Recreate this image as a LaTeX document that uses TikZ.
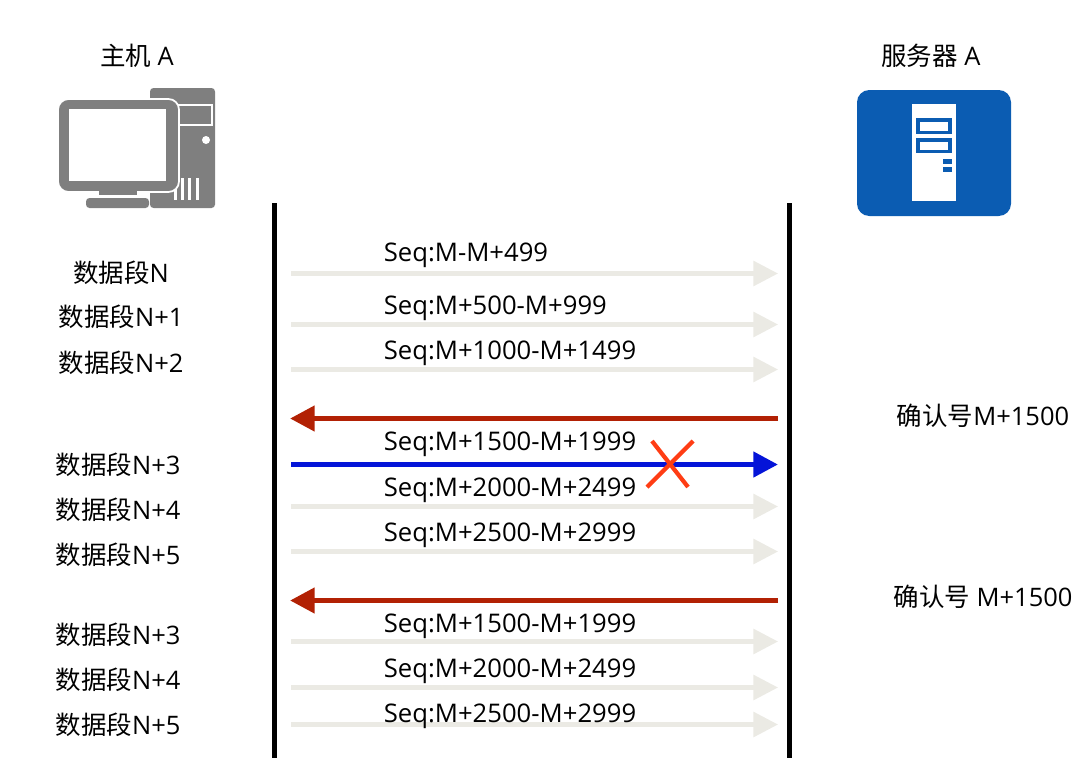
\documentclass[tikz,border=0pt]{standalone}
\usepackage{fontspec}
\setmainfont{Open Sans}
\newfontfamily\cjk{Noto Sans CJK SC}
\usetikzlibrary{arrows.meta, positioning}

\begin{document}
\begin{tikzpicture}[x=0.02cm, y=-0.02cm,
    seq/.style={anchor=west, inner sep=0pt, font=\fontsize{14.6pt}{17pt}\selectfont},
    side/.style={inner sep=0pt, font=\fontsize{14.5pt}{17pt}\selectfont},
    sent/.style={-{Triangle[length=14pt, width=14pt]}, line width=2.3pt, color=sentgray},
    ack/.style={-{Triangle[length=14pt, width=14pt]}, line width=3.1pt, color=ackred},
    lost/.style={-{Triangle[length=14pt, width=14pt]}, line width=3.1pt, color=lostblue},
    lifeline/.style={line width=2.4pt, black},
    cross/.style={line width=2.4pt, color=crossred}
]
\definecolor{sentgray}{HTML}{EBEAE4}
\definecolor{ackred}{HTML}{B22104}
\definecolor{lostblue}{HTML}{0414D8}
\definecolor{crossred}{HTML}{FF3D14}
\definecolor{hostgray}{HTML}{7F7F7F}
\definecolor{serverblue}{HTML}{0B5CB2}

\useasboundingbox (0,0) rectangle (1088,768);

% Host icon
\fill[hostgray, rounded corners=2pt] (150,88) rectangle (215,208);
\draw[white, line width=0.7pt] (170,105) -- (212,105) -- (212,125) -- (170,125);
\fill[white] (206,140) circle (4);
\fill[white] (174,178) rectangle (176.5,200);
\fill[white] (181,178) rectangle (183.5,200);
\fill[white] (188,178) rectangle (190.5,200);
\fill[white] (196,178) rectangle (198.5,200);
\fill[hostgray, draw=white, line width=1pt, rounded corners=6pt] (58,99) rectangle (179,192);
\fill[white] (69,109) rectangle (166,181);
\fill[hostgray] (99,190) rectangle (137,195);
\fill[hostgray, rounded corners=2pt] (86,198) rectangle (149,208);

% Server icon
\fill[serverblue, rounded corners=7pt] (857,90) rectangle (1011,216);
\fill[white] (912,104) rectangle (956,201);
\fill[serverblue] (916,118) rectangle (952,134);
\fill[white] (920,122) rectangle (948,130.5);
\fill[serverblue] (916,138) rectangle (952,153);
\fill[white] (920,141.5) rectangle (948,149.5);
\fill[serverblue] (943,159) rectangle (952,163.5);
\fill[serverblue] (943,167) rectangle (952,171.5);

% Titles
\node[side] (host) at (137,55.5) {{\cjk 主机} A};
\node[side] (server) at (931,55.5) {{\cjk 服务器} A};

% Lifelines
\coordinate (hosttop) at (274.5,203);
\coordinate (hostend) at (274.5,758);
\coordinate (servertop) at (789.5,203);
\coordinate (serverend) at (789.5,758);
\draw[lifeline] (hosttop) -- (hostend);
\draw[lifeline] (servertop) -- (serverend);

% First window
\coordinate (s1a) at (291,273.5); \coordinate (s1b) at (778,273.5);
\coordinate (s2a) at (291,324.5); \coordinate (s2b) at (778,324.5);
\coordinate (s3a) at (291,369.5); \coordinate (s3b) at (778,369.5);
\draw[sent] (s1a) -- (s1b);
\draw[sent] (s2a) -- (s2b);
\draw[sent] (s3a) -- (s3b);
\node[seq] (q1) at (383.5,255) {Seq:M-M+499};
\node[seq] (q2) at (383.5,308) {Seq:M+500-M+999};
\node[seq] (q3) at (383.5,353) {Seq:M+1000-M+1499};
\node[side] (d1) at (121,272.5) {{\cjk 数据段}N};
\node[side] (d2) at (121,316.5) {{\cjk 数据段}N+1};
\node[side] (d3) at (121,362.5) {{\cjk 数据段}N+2};

% First ack
\coordinate (r1a) at (778,418.5); \coordinate (r1b) at (290,418.5);
\draw[ack] (r1a) -- (r1b);
\node[side] (c1) at (983,415.5) {{\cjk 确认号}M+1500};

% Second window, first segment lost
\coordinate (s4a) at (291,464.5); \coordinate (s4b) at (778,464.5);
\coordinate (s5a) at (291,506.5); \coordinate (s5b) at (778,506.5);
\coordinate (s6a) at (291,551.5); \coordinate (s6b) at (778,551.5);
\draw[sent] (s5a) -- (s5b);
\draw[sent] (s6a) -- (s6b);
\draw[lost] (s4a) -- (s4b);
\coordinate (x1a) at (652,441); \coordinate (x1b) at (688,487);
\coordinate (x2a) at (693,441); \coordinate (x2b) at (647,487);
\draw[cross] (x1a) -- (x1b);
\draw[cross] (x2a) -- (x2b);
\node[seq] (q4) at (383.5,444) {Seq:M+1500-M+1999};
\node[seq] (q5) at (383.5,490) {Seq:M+2000-M+2499};
\node[seq] (q6) at (383.5,535) {Seq:M+2500-M+2999};
\node[side] (d4) at (118,464.5) {{\cjk 数据段}N+3};
\node[side] (d5) at (118,509.5) {{\cjk 数据段}N+4};
\node[side] (d6) at (118,554.5) {{\cjk 数据段}N+5};

% Second ack
\coordinate (r2a) at (778,600.5); \coordinate (r2b) at (290,600.5);
\draw[ack] (r2a) -- (r2b);
\node[side] (c2) at (983,596.5) {{\cjk 确认号} M+1500};

% Retransmission
\coordinate (s7a) at (291,641.5); \coordinate (s7b) at (778,641.5);
\coordinate (s8a) at (291,687.5); \coordinate (s8b) at (778,687.5);
\coordinate (s9a) at (291,724.5); \coordinate (s9b) at (778,724.5);
\draw[sent] (s7a) -- (s7b);
\draw[sent] (s8a) -- (s8b);
\draw[sent] (s9a) -- (s9b);
\node[seq] (q7) at (383.5,626) {Seq:M+1500-M+1999};
\node[seq] (q8) at (383.5,671) {Seq:M+2000-M+2499};
\node[seq] (q9) at (383.5,716) {Seq:M+2500-M+2999};
\node[side] (d7) at (118,634.5) {{\cjk 数据段}N+3};
\node[side] (d8) at (118,679.5) {{\cjk 数据段}N+4};
\node[side] (d9) at (118,724.5) {{\cjk 数据段}N+5};

\end{tikzpicture}
\end{document}
